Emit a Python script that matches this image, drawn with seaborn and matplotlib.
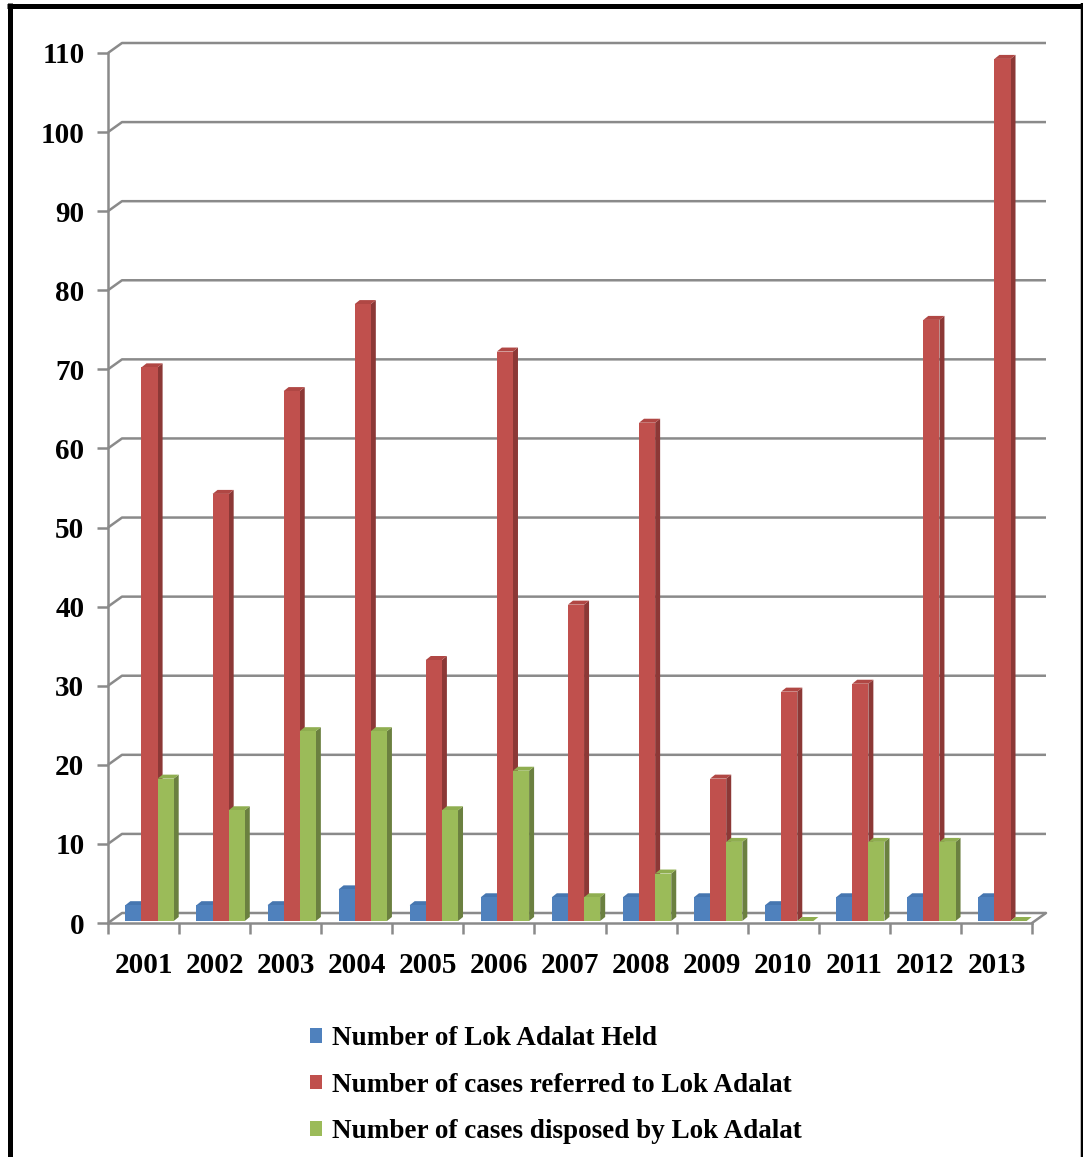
import numpy as np
import pandas as pd
import matplotlib
matplotlib.use("Agg")
import matplotlib.pyplot as plt
import matplotlib.colors as mcolors
import seaborn as sns
from matplotlib.patches import Polygon, Patch
from matplotlib.lines import Line2D
from matplotlib.transforms import ScaledTranslation

# ---- data ----
years = ["2001", "2002", "2003", "2004", "2005", "2006", "2007",
         "2008", "2009", "2010", "2011", "2012", "2013"]
held = [2, 2, 2, 4, 2, 3, 3, 3, 3, 2, 3, 3, 3]
referred = [70, 54, 67, 78, 33, 72, 40, 63, 18, 29, 30, 76, 109]
disposed = [18, 14, 24, 24, 14, 19, 3, 6, 10, 0, 10, 10, 0]
series_names = ["Number of Lok Adalat Held",
                "Number of cases referred to Lok Adalat",
                "Number of cases disposed by Lok Adalat"]
y_ticks = list(range(0, 111, 10))

# ---- styling ----
front_colors = ["#4F81BD", "#C0504D", "#9BBB59"]
side_colors = ["#385E8C", "#8C3836", "#6B8040"]
top_colors = ["#4676B0", "#B04744", "#8FAE50"]
grid_color = "#8a8a8a"

sns.set_theme(style="white")
plt.rcParams["font.family"] = ["Liberation Serif", "DejaVu Serif"]
plt.rcParams["font.weight"] = "bold"
plt.rcParams["text.color"] = "black"

W, H, DPI = 1083, 1157, 100
fig = plt.figure(figsize=(W / DPI, H / DPI), dpi=DPI)
fig.patch.set_facecolor("white")

# plot box in pixels
ax_l, ax_r, ax_t, ax_b = 108, 1032, 53, 923
ax = fig.add_axes([ax_l / W, 1 - ax_b / H, (ax_r - ax_l) / W, (ax_b - ax_t) / H])
ax.set_facecolor("none")

df = pd.DataFrame({
    "year": years * 3,
    "series": np.repeat(series_names, len(years)),
    "value": held + referred + disposed,
})

sns.barplot(data=df, x="year", y="value", hue="series", hue_order=series_names,
            palette=front_colors, saturation=1, width=0.68, gap=0,
            errorbar=None, legend=False, linewidth=0, ax=ax)

ax.set_xlim(-0.5, len(years) - 0.5)
ax.set_ylim(0, 110)
ax.set_xlabel("")
ax.set_ylabel("")

ppx = (ax_r - ax_l) / len(years)   # pixels per category
ppy = (ax_b - ax_t) / 110.0        # pixels per unit value

# pseudo-3D bars: side and top faces behind each front face
shift = ScaledTranslation(6 / DPI, 2 / DPI, fig.dpi_scale_trans)
tr = ax.transData + shift
bdx, bdy = 5 / ppx, 4 / ppy
color_idx = {mcolors.to_hex(c).lower(): k for k, c in enumerate(front_colors)}
bars = sorted(ax.patches, key=lambda p: p.get_x())
for i, p in enumerate(bars):
    x0, w, h = p.get_x(), p.get_width(), p.get_height()
    k = color_idx[mcolors.to_hex(p.get_facecolor()).lower()]
    side = Polygon([(x0 + w, 0), (x0 + w + bdx, bdy), (x0 + w + bdx, h + bdy), (x0 + w, h)],
                   closed=True, fc=side_colors[k], ec="none", transform=tr,
                   zorder=3 + 2 * i, clip_on=False)
    top = Polygon([(x0, h), (x0 + bdx, h + bdy), (x0 + w + bdx, h + bdy), (x0 + w, h)],
                  closed=True, fc=top_colors[k], ec="none", transform=tr,
                  zorder=3 + 2 * i, clip_on=False)
    ax.add_patch(side)
    ax.add_patch(top)
    p.set_transform(tr)
    p.set_zorder(4 + 2 * i)
    p.set_clip_on(False)

# back-wall gridlines with depth
gdx, gdy = 14 / ppx, 10 / ppy
x_lo, x_hi = -0.5, len(years) - 0.5
for v in y_ticks:
    ax.plot([x_lo, x_lo + gdx, x_hi + gdx], [v, v + gdy, v + gdy],
            color=grid_color, lw=1.8, clip_on=False, zorder=1,
            solid_capstyle="butt")
ax.plot([x_hi, x_hi + gdx], [0, gdy], color=grid_color, lw=1.8,
        clip_on=False, zorder=1)

# axes lines and ticks
for s in ["top", "right"]:
    ax.spines[s].set_visible(False)
for s in ["left", "bottom"]:
    ax.spines[s].set_visible(True)
    ax.spines[s].set_color(grid_color)
    ax.spines[s].set_linewidth(1.8)
    ax.spines[s].set_zorder(1)

ax.set_yticks(y_ticks)
ax.set_yticklabels([str(v) for v in y_ticks], fontsize=21, fontweight="bold")
ax.tick_params(axis="y", left=True, length=8, width=1.8, color=grid_color,
               pad=9, labelcolor="black")

ax.set_xticks(range(len(years)))
ax.set_xticklabels(years, fontsize=21, fontweight="bold")
ax.set_xticks(np.arange(-0.5, len(years), 1), minor=True)
ax.tick_params(axis="x", which="major", bottom=False, length=0, pad=21,
               labelcolor="black")
ax.tick_params(axis="x", which="minor", bottom=True, length=8, width=1.8,
               color=grid_color)

# legend below the plot
handles = [Patch(fc=c, ec="none") for c in front_colors]
fig.legend(handles, series_names, loc="upper left",
           bbox_to_anchor=(310 / W, 1 - 1026 / H), frameon=False,
           prop={"family": ["Liberation Serif"], "weight": "bold", "size": 19.5},
           labelcolor="black",
           handlelength=0.45, handleheight=0.45, handletextpad=0.35,
           labelspacing=0.8, borderpad=0, borderaxespad=0)

# outer frame (left, top, right)
lw_px = 72 / DPI
fig.add_artist(Line2D([9.5 / W, 9.5 / W], [0, 1 - 3 / H], transform=fig.transFigure,
                      color="black", lw=5 * lw_px, solid_capstyle="butt"))
fig.add_artist(Line2D([7 / W, 1], [1 - 5.5 / H, 1 - 5.5 / H], transform=fig.transFigure,
                      color="black", lw=5 * lw_px, solid_capstyle="butt"))
fig.add_artist(Line2D([1081.5 / W, 1081.5 / W], [0, 1 - 3 / H], transform=fig.transFigure,
                      color="black", lw=2.5 * lw_px, solid_capstyle="butt"))

fig.savefig("out.png", dpi=DPI, facecolor="white")
